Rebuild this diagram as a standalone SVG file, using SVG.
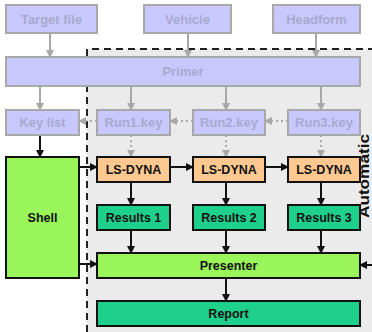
<svg xmlns="http://www.w3.org/2000/svg" width="372" height="332" viewBox="0 0 372 332">
<style>
.lav{fill:#c8c8ff;stroke:#a8a8a8;stroke-width:2}
.lt{font-family:"Liberation Sans",Arial,sans-serif;font-weight:bold;font-size:13px;fill:#a8a8cc;text-anchor:middle}
.bt{font-family:"Liberation Sans",Arial,sans-serif;font-weight:bold;font-size:12.5px;fill:#111;text-anchor:middle}
.dyna{fill:#ffc890;stroke:#111;stroke-width:2}
.res{fill:#1ed08c;stroke:#111;stroke-width:2}
.grn{fill:#99f55a;stroke:#111;stroke-width:2}
.ga{stroke:#a8a8a8;stroke-width:2;fill:none;marker-end:url(#ag)}
.gd{stroke:#a8a8a8;stroke-width:2;fill:none;stroke-dasharray:2,3;marker-end:url(#ag)}
.ba{stroke:#111;stroke-width:2;fill:none;marker-end:url(#ab)}
</style>
<defs>
<marker id="ag" markerWidth="8" markerHeight="8" refX="7" refY="4" orient="auto" markerUnits="userSpaceOnUse"><path d="M0,0 L8,4 L0,8 Z" fill="#a8a8a8"/></marker>
<marker id="ab" markerWidth="8" markerHeight="8" refX="7" refY="4" orient="auto" markerUnits="userSpaceOnUse"><path d="M0,0 L8,4 L0,8 Z" fill="#111"/></marker>
</defs>
<rect width="372" height="332" fill="#ffffff"/>
<rect x="87" y="49" width="285" height="283" fill="#ebebeb"/>
<path d="M87,332 V49 H372" fill="none" stroke="#222" stroke-width="2" stroke-dasharray="7,5"/>
<text x="369" y="218" transform="rotate(-90 369 218)" textLength="84" lengthAdjust="spacingAndGlyphs" font-family="'Liberation Sans',Arial,sans-serif" font-weight="bold" font-size="15" fill="#111">Automatic</text>

<g id="connectors">
<path class="ga" d="M50,33 V57"/>
<path class="ga" d="M188,33 V57"/>
<path class="ga" d="M316,33 V57"/>
<path class="ga" d="M40,86 V110"/>
<path class="ga" d="M131,86 V110"/>
<path class="ga" d="M226,86 V110"/>
<path class="ga" d="M321,86 V110"/>
<path class="gd" d="M97,121 H79"/>
<path class="gd" d="M193,121 H170"/>
<path class="gd" d="M288,121 H265"/>
<path class="gd" d="M131,135 V157"/>
<path class="gd" d="M226,135 V157"/>
<path class="gd" d="M321,135 V157"/>
<path class="ba" d="M40,135 V157"/>
<path class="ba" d="M79,167 H97"/>
<path class="ba" d="M170,167 H193"/>
<path class="ba" d="M265,167 H288"/>
<path class="ba" d="M131,182 V205"/>
<path class="ba" d="M226,182 V205"/>
<path class="ba" d="M321,182 V205"/>
<path class="ba" d="M131,230 V253"/>
<path class="ba" d="M226,230 V253"/>
<path class="ba" d="M321,230 V253"/>
<path class="ba" d="M79,264 H97"/>
<path class="ba" d="M372,265 H360"/>
<path class="ba" d="M226,278 V301"/>
</g>

<g id="target"><rect class="lav" x="6" y="5" width="91" height="28"/><text class="lt" x="51.5" y="24">Target file</text></g>
<g id="vehicle"><rect class="lav" x="144" y="5" width="87" height="28"/><text class="lt" x="187.5" y="24">Vehicle</text></g>
<g id="headform"><rect class="lav" x="273" y="5" width="87" height="28"/><text class="lt" x="316.5" y="24">Headform</text></g>
<g id="primer"><rect class="lav" x="6" y="57" width="354" height="29"/><text class="lt" x="183" y="76">Primer</text></g>
<g id="keylist"><rect class="lav" x="6" y="110" width="73" height="25"/><text class="lt" x="42.5" y="127">Key list</text></g>
<g id="run1"><rect class="lav" x="97" y="110" width="73" height="25"/><text class="lt" x="133.5" y="127">Run1.key</text></g>
<g id="run2"><rect class="lav" x="193" y="110" width="72" height="25"/><text class="lt" x="229" y="127">Run2.key</text></g>
<g id="run3"><rect class="lav" x="288" y="110" width="72" height="25"/><text class="lt" x="324" y="127">Run3.key</text></g>

<g id="shell"><rect class="grn" x="6" y="157" width="73" height="121"/><text class="bt" x="42.5" y="222">Shell</text></g>
<g id="dyna1"><rect class="dyna" x="97" y="157" width="73" height="25"/><text class="bt" x="133.5" y="174">LS-DYNA</text></g>
<g id="dyna2"><rect class="dyna" x="193" y="157" width="72" height="25"/><text class="bt" x="229" y="174">LS-DYNA</text></g>
<g id="dyna3"><rect class="dyna" x="288" y="157" width="72" height="25"/><text class="bt" x="324" y="174">LS-DYNA</text></g>
<g id="res1"><rect class="res" x="97" y="205" width="73" height="25"/><text class="bt" x="133.5" y="222">Results 1</text></g>
<g id="res2"><rect class="res" x="193" y="205" width="72" height="25"/><text class="bt" x="229" y="222">Results 2</text></g>
<g id="res3"><rect class="res" x="288" y="205" width="72" height="25"/><text class="bt" x="324" y="222">Results 3</text></g>
<g id="presenter"><rect class="grn" x="97" y="253" width="263" height="25"/><text class="bt" x="228.5" y="270">Presenter</text></g>
<g id="report"><rect class="res" x="97" y="301" width="263" height="25"/><text class="bt" x="228.5" y="318">Report</text></g>
</svg>
